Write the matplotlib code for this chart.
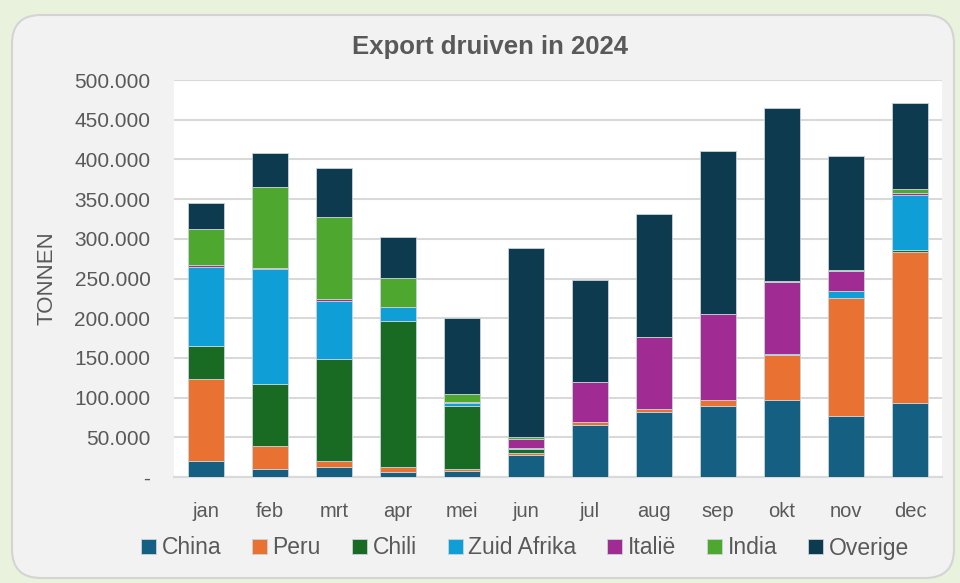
import numpy as np
import matplotlib.pyplot as plt
from matplotlib.patches import FancyBboxPatch
from matplotlib.ticker import FuncFormatter

plt.rcParams['font.family'] = ['Liberation Sans', 'DejaVu Sans']

months = ["jan", "feb", "mrt", "apr", "mei", "jun", "jul", "aug", "sep", "okt", "nov", "dec"]

# export in tonnen, per land
china = [20000, 10500, 12000, 6700, 8000, 28000, 65800, 82000, 89800, 97000, 77000, 93500]
peru = [104000, 28500, 8500, 5500, 2500, 2000, 3000, 4000, 7500, 57000, 149000, 189500]
chili = [41000, 77700, 128000, 184000, 79500, 5600, 300, 0, 0, 0, 0, 3000]
zuid_afrika = [100000, 145000, 73400, 17600, 2800, 500, 0, 0, 0, 500, 8000, 68600]
italie = [1500, 1000, 1700, 500, 1200, 11500, 50000, 90000, 108300, 91500, 25000, 3400]
india = [45500, 103000, 104300, 36000, 10000, 2500, 500, 300, 300, 300, 1600, 4500]
overige = [33000, 42500, 61000, 51800, 95800, 238000, 128300, 154500, 205000, 219000, 143400, 108000]

series = [
    ("China", china, "#156082"),
    ("Peru", peru, "#E97132"),
    ("Chili", chili, "#196B24"),
    ("Zuid Afrika", zuid_afrika, "#0F9ED5"),
    ("Italië", italie, "#A02B93"),
    ("India", india, "#4EA72E"),
    ("Overige", overige, "#0E3A4F"),
]

fig = plt.figure(figsize=(9.6, 5.83), dpi=100)
fig.patch.set_facecolor("#E9F2DC")

# afgeronde achtergrond
panel = FancyBboxPatch((12 / 960, 5 / 583), 942 / 960, 563 / 583,
                       boxstyle="round,pad=0,rounding_size=0.03",
                       transform=fig.transFigure, facecolor="#F2F2F2",
                       edgecolor="#D4D4D4", linewidth=1.5, zorder=-5,
                       mutation_aspect=960 / 583)
fig.patches.append(panel)

ax = fig.add_axes([174 / 960, 1 - 477 / 583, 768 / 960, 397 / 583])
ax.set_facecolor("white")

x = np.arange(len(months))
bottom = np.zeros(len(months))
for name, vals, col in series:
    ax.bar(x, vals, bottom=bottom, width=0.55, color=col, label=name,
           edgecolor="#C9D3D8", linewidth=0.6, zorder=3)
    bottom += np.array(vals)

ax.set_ylim(0, 500000)
ax.set_xlim(-0.5, len(months) - 0.5)
ax.set_yticks(np.arange(0, 500001, 50000))
ax.yaxis.set_major_formatter(FuncFormatter(
    lambda v, p: "-" if v == 0 else f"{int(v):,}".replace(",", ".")))
ax.grid(axis="y", color="#D9D9D9", linewidth=1.5, zorder=0)
ax.set_xticks(x)
ax.set_xticklabels(months)
for s in ["top", "right", "left"]:
    ax.spines[s].set_visible(False)
ax.spines["bottom"].set_color("#D9D9D9")
ax.spines["bottom"].set_linewidth(1.5)
ax.tick_params(axis="both", length=0, colors="#595959")
ax.tick_params(axis="y", pad=17, labelsize=15)
ax.tick_params(axis="x", pad=18, labelsize=14.5)

ax.set_ylabel("TONNEN", fontsize=16, color="#595959", labelpad=12)
fig.text(490 / 960, 1 - 47 / 583, "Export druiven in 2024", ha="center", va="center",
         fontsize=18.5, fontweight="bold", color="#595959")

leg = fig.legend(loc="center", bbox_to_anchor=(525 / 960, 1 - 548 / 583), ncol=7,
                 frameon=False, fontsize=16.5, handlelength=0.65, handleheight=0.65,
                 handletextpad=0.25, columnspacing=1.35)
for t in leg.get_texts():
    t.set_color("#595959")

fig.savefig("out.png", dpi=100, facecolor=fig.get_facecolor())
